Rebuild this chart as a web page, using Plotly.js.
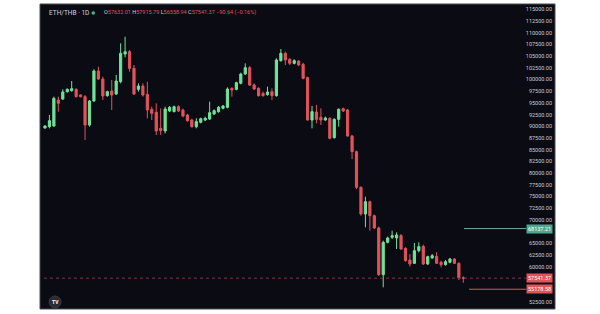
<!DOCTYPE html>
<html><head><meta charset="utf-8">
<script src="https://cdn.plot.ly/plotly-3.0.1.min.js"></script>
<style>html,body{margin:0;padding:0;background:#fff;}#chart{width:600px;height:314px;}</style>
</head><body><div id="chart"></div>
<script>
const openP = [89635,89920,90062,95618,95832,97399,97612,97898,96687,96330,
90275,95405,101816,100106,96544,97541,96900,99536,105448,105947,
102386,97898,98610,96829,93624,92983,89564,88994,93268,93124,
94194,93481,92413,91344,89920,90845,91344,91558,92627,93124,
93837,94051,98111,97898,99180,101175,102528,98823,98111,97043,
96758,97399,96544,104023,105590,104308,103454,103952,103240,100390,
91344,93054,91914,91344,91700,87569,91487,93766,93481,87925,
84577,76955,71257,73892,70901,68265,58293,65202,66271,66128,
66627,63920,61427,60715,63422,64347,60573,61854,62211,60928,
60430,60928,61641,60715,57632.01];
const highP = [90204,92413,96330,96330,97898,98111,99679,98111,96829,96687,
95618,102171,102741,100604,97612,99893,100961,107728,109152,106303,
103097,99180,99180,99536,94194,94905,93837,94194,94336,94407,
94478,93766,92627,91629,91700,91843,92057,95262,93624,94336,
94549,98325,98325,99536,101460,103454,102884,99180,98325,97399,
98468,98111,104522,106516,105947,104522,104308,104165,103596,100604,
94336,94549,93837,92057,91914,91700,93837,93980,93695,88139,
84790,77169,74961,74106,71114,68550,65558,66413,67695,67339,
66983,64134,62709,65060,65202,64702,62353,62709,63066,61285,
61427,61854,61854,60928,57915.79];
const lowP = [89492,89564,89920,93124,95618,97185,97399,96188,96188,87070,
89920,95262,99893,95618,96330,93481,96687,99180,104735,101672,
96687,97399,96330,91700,91344,88139,88139,88495,93054,92983,
93054,91914,90988,89707,89564,90632,91131,91344,92413,92911,
93624,93837,96330,97684,98966,100961,98610,97755,96330,96330,
96544,95618,96330,103809,103097,103097,103240,102884,100035,91202,
89564,90632,90275,91202,87213,87355,89920,93054,87782,83010,
76599,70901,68407,67695,68052,58008,55586,64989,65914,63778,
63564,61071,60003,60573,63066,60359,60359,61641,60573,59860,
60217,60715,60573,57154,56558.94];
const closeP = [90062,91202,95974,94905,97328,97898,98040,96330,96330,90275,
95405,101816,100106,96473,97399,96687,99679,105590,105947,102386,
96900,98610,96687,93481,92769,88994,89066,93695,94051,94194,
93268,92199,91202,89920,90988,91629,91700,92911,93339,94051,
94336,97969,97755,99323,101175,102528,98823,97969,96544,96544,
97328,96544,104165,105590,104165,103454,104023,103097,100248,91344,
93124,91487,91344,91771,87426,91487,93624,93268,87925,84577,
76955,71257,73892,70901,68265,58293,65202,66128,66627,66769,
63778,61285,60573,63422,64276,60573,62139,62353,60715,60430,
61071,61641,60715,57632,57541.37];
const tickValues = [52500,60000,62500,65000,70000,72500,75000,77500,80000,82500,85000,87500,90000,92500,95000,97500,100000,102500,105000,107500,110000,112500,115000];
const tickLabels = tickValues.map(v => v.toFixed(2));
const lastPrice = 57541.37;
const upperLevel = 68137.21;
const lowerLevel = 55178.58;

const idx = openP.map((_, i) => i);
const GREEN = '#6fe39a', RED = '#e2535b';
const trace = {
  type: 'candlestick', x: idx, open: openP, high: highP, low: lowP, close: closeP,
  increasing: {line: {color: GREEN, width: 1}, fillcolor: GREEN},
  decreasing: {line: {color: RED, width: 1}, fillcolor: RED},
  whiskerwidth: 0, hoverinfo: 'skip'
};
const W = 515, L = 40;
const px = p => (p - L) / W;
const lab = (y, txt, bg) => ({xref:'paper', yref:'y', x: px(526), y: y, xanchor:'left', yanchor:'middle',
  text: txt, showarrow:false, bgcolor: bg, borderpad: 1, font:{family:'Roboto', size:5.5, color:'#ffffff'}});
const layout = {
  width: 600, height: 314,
  margin: {l: 40, r: 45, t: 4, b: 5},
  paper_bgcolor: '#ffffff', plot_bgcolor: '#0b0b14',
  showlegend: false, boxgap: 0.3,
  xaxis: {range: [-1.12, 114.6], showgrid:false, zeroline:false, showticklabels:false, ticks:'', rangeslider:{visible:false}, fixedrange:true},
  yaxis: {side:'right', range:[50954, 116133], tickvals: tickValues, ticktext: tickLabels, ticklabelposition:'inside',
    showgrid:false, zeroline:false, ticks:'', tickfont:{family:'Roboto', size:5.5, color:'#c9ccd4'}, fixedrange:true},
  shapes: [
    {type:'rect', xref:'paper', yref:'paper', x0:0, x1:1, y0:0, y1:1, line:{color:'#4a4a55', width:1}},
    {type:'line', xref:'paper', yref:'y', x0:px(44), x1:px(526), y0:lastPrice, y1:lastPrice, line:{color:'#7a3a45', width:1, dash:'dot'}},
    {type:'line', xref:'paper', yref:'y', x0:px(464), x1:px(526), y0:upperLevel, y1:upperLevel, line:{color:'#7fa9a0', width:1}},
    {type:'line', xref:'paper', yref:'y', x0:px(469), x1:px(526), y0:lowerLevel, y1:lowerLevel, line:{color:RED, width:1}},
    {type:'circle', xref:'paper', yref:'paper', x0:px(49), x1:px(61), y0:(309-308)/305, y1:(309-296)/305, fillcolor:'#2b2b36', line:{color:'#3a3a46', width:1}},
    {type:'circle', xref:'paper', yref:'paper', x0:px(91.5), x1:px(95), y0:1-(14.8-4)/305, y1:1-(11.3-4)/305, fillcolor:'#4fb39a', line:{width:0}}
  ],
  annotations: [
    lab(upperLevel, upperLevel.toFixed(2), '#4fa88e'),
    lab(lastPrice, lastPrice.toFixed(2), '#e2535b'),
    lab(lowerLevel, lowerLevel.toFixed(2), '#e2535b'),
    {xref:'paper', yref:'paper', x:px(47), y:1-(13-4)/305, xanchor:'left', yanchor:'middle', showarrow:false,
      text:'ETH/THB · 1D', font:{family:'Roboto', size:6.5, color:'#d1d4dc'}},
    {xref:'paper', yref:'paper', x:px(102), y:1-(13-4)/305, xanchor:'left', yanchor:'middle', showarrow:false,
      text:'<span style="color:#d1d4dc">O</span>57632.01 <span style="color:#d1d4dc">H</span>57915.79 <span style="color:#d1d4dc">L</span>56558.94 <span style="color:#d1d4dc">C</span>57541.37 −90.64 (−0.16%)',
      font:{family:'Roboto', size:5.5, color:'#e2535b'}},
    {xref:'paper', yref:'paper', x:px(55), y:(309-302)/305, xanchor:'center', yanchor:'middle', showarrow:false,
      text:'<b>TV</b>', font:{family:'Roboto', size:5, color:'#ffffff'}}
  ]
};
Plotly.newPlot('chart', [trace], layout, {displayModeBar:false, staticPlot:true});
</script></body></html>
